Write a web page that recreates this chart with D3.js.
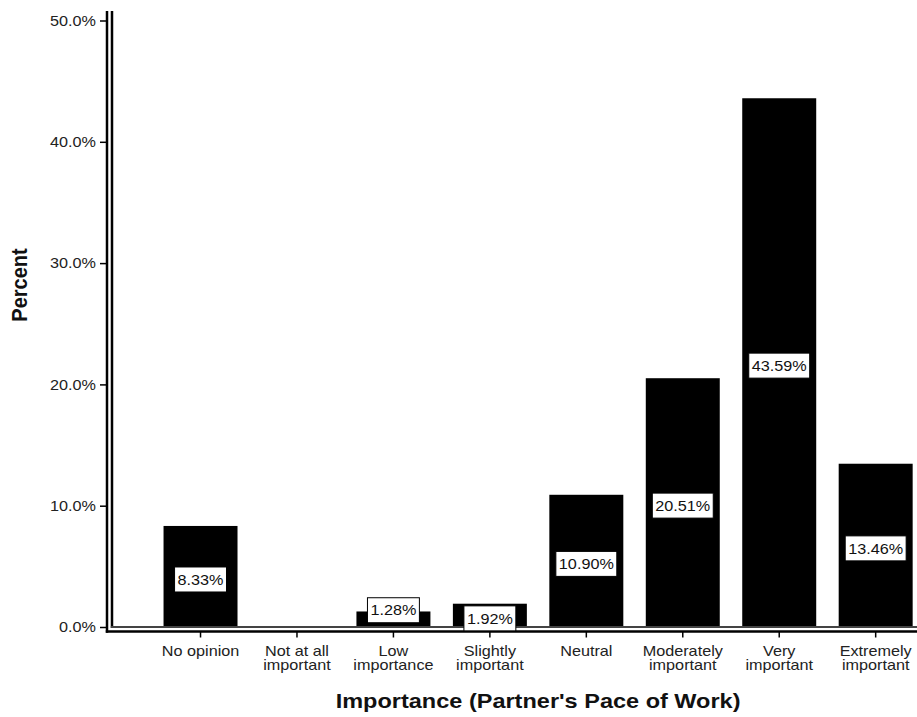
<!DOCTYPE html>
<html>
<head>
<meta charset="utf-8">
<script src="https://cdn.jsdelivr.net/npm/d3@7/dist/d3.min.js"></script>
<style>
  html, body { margin: 0; padding: 0; background: #fff; }
  svg { display: block; font-family: "Liberation Sans", Arial, sans-serif; }
</style>
</head>
<body>
<svg id="chart" width="917" height="717"></svg>
<script>
// ---- data ----
const categories = ["No opinion", "Not at all\nimportant", "Low\nimportance", "Slightly\nimportant",
                    "Neutral", "Moderately\nimportant", "Very\nimportant", "Extremely\nimportant"];
const percents = [8.33, 0, 1.28, 1.92, 10.90, 20.51, 43.59, 13.46];
const yTickValues = [0, 10, 20, 30, 40, 50];
const yTickLabels = ["0.0%", "10.0%", "20.0%", "30.0%", "40.0%", "50.0%"];
const xTitle = "Importance (Partner's Pace of Work)";
const yTitle = "Percent";

// ---- layout ----
const SX = 1.08; // horizontal text stretch
const FS = 15;
const svg = d3.select("#chart");
const axisX = 107, innerX = 112;
const y = d3.scaleLinear().domain([0, 50]).range([627, 20.5]);
const x = d3.scaleBand().domain(categories).range([152.3, 923.9]).paddingInner(0.233).paddingOuter(0.1165);
const baseY = y(0);
const outerY = 631.5;

// bars
svg.append("g").selectAll("rect").data(percents).join("rect")
  .attr("x", (d, i) => x(categories[i]))
  .attr("width", x.bandwidth())
  .attr("y", d => y(d))
  .attr("height", d => baseY - y(d))
  .attr("fill", "#000");

// axes frame lines (double lines)
const frame = svg.append("g").attr("stroke", "#000").attr("stroke-width", 2.5).attr("fill", "none");
frame.append("line").attr("x1", axisX).attr("x2", axisX).attr("y1", 11).attr("y2", outerY + 1.2);
frame.append("line").attr("x1", innerX).attr("x2", innerX).attr("y1", 11).attr("y2", baseY + 1);
frame.append("line").attr("x1", axisX - 1.2).attr("x2", 917).attr("y1", outerY).attr("y2", outerY);
frame.append("line").attr("x1", innerX - 1.2).attr("x2", 917).attr("y1", baseY).attr("y2", baseY)
  .attr("stroke", "#444").attr("stroke-width", 2);

// y axis
const yAxis = d3.axisLeft(y).tickValues(yTickValues)
  .tickFormat((d, i) => yTickLabels[i]).tickSize(7).tickPadding(3.2).tickSizeOuter(0);
const gy = svg.append("g").attr("transform", `translate(${axisX},0)`).call(yAxis);
gy.select(".domain").remove();
gy.selectAll(".tick line").attr("stroke", "#000").attr("stroke-width", 1.5);
gy.selectAll(".tick text").attr("font-size", FS).attr("fill", "#222")
  .attr("font-family", "'Liberation Sans', Arial, sans-serif")
  .attr("transform", `scale(${SX},1)`);

// x axis
const xAxis = d3.axisBottom(x).tickSize(6).tickSizeOuter(0);
const gx = svg.append("g").attr("transform", `translate(0,${outerY})`).call(xAxis);
gx.select(".domain").remove();
gx.selectAll(".tick line").attr("stroke", "#000").attr("stroke-width", 1.5);
gx.selectAll(".tick text").each(function(d) {
  const t = d3.select(this);
  t.text(null).attr("y", 0).attr("dy", null)
    .attr("font-size", FS).attr("fill", "#222")
    .attr("font-family", "'Liberation Sans', Arial, sans-serif")
    .attr("transform", `translate(0,24.5) scale(${SX},1)`);
  d.split("\n").forEach((line, k) => {
    t.append("tspan").attr("x", 0).attr("dy", k === 0 ? 0 : 14).text(line);
  });
});

// value labels
const lab = svg.append("g");
percents.forEach((v, i) => {
  if (v <= 0) return;
  const cx = x(categories[i]) + x.bandwidth() / 2;
  let cy = (y(v) + baseY) / 2 + 3;
  if (i === 2) cy -= 12;
  const g = lab.append("g").attr("transform", `translate(${cx},${cy})`);
  const txt = g.append("text").attr("text-anchor", "middle").attr("dy", "0.35em")
    .attr("font-size", FS).attr("fill", "#111")
    .attr("transform", `scale(${SX},1)`)
    .text(v.toFixed(2) + "%");
  const w = txt.node().getComputedTextLength() * SX + 6;
  g.insert("rect", "text").attr("x", -w / 2).attr("y", -12.5).attr("width", w).attr("height", 25)
    .attr("fill", "#fff").attr("stroke", "#000").attr("stroke-width", 1);
});

// titles
svg.append("text").attr("text-anchor", "middle")
  .attr("transform", `translate(${(152.3 + 923.9) / 2},708) scale(1.12,1)`)
  .attr("font-size", 21).attr("font-weight", "bold").attr("fill", "#111").text(xTitle);
svg.append("text").attr("text-anchor", "middle")
  .attr("transform", `translate(27,285) scale(${SX},1) rotate(-90)`)
  .attr("font-size", 20).attr("font-weight", "bold").attr("fill", "#111").text(yTitle);
</script>
</body>
</html>
